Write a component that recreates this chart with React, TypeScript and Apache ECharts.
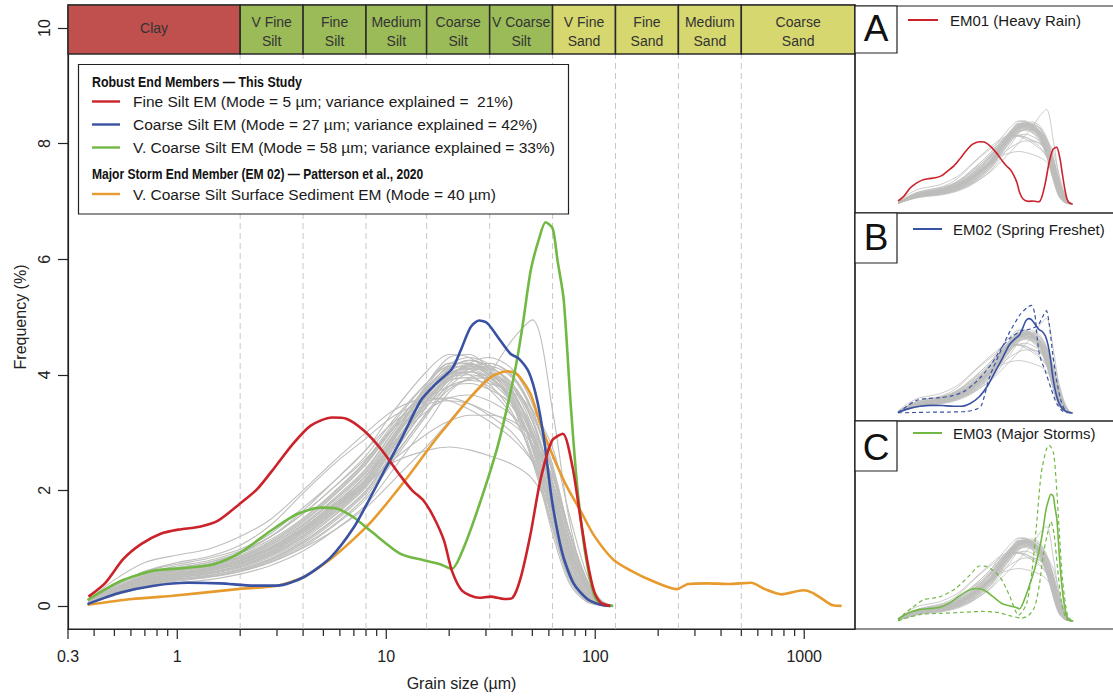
import React, { useEffect, useRef } from "react";
import * as echarts from "echarts";

const FONT = '"Liberation Sans", Arial, Helvetica, sans-serif';

// ---- axes ----
const X_MIN = 0.3;
const X_MAX = 1750;
const Y_MIN = -0.4;
const Y_MAX = 10.4;
const X_MAJOR = [0.3, 1, 10, 100, 1000];
const X_MINOR = [0.4, 0.5, 0.6, 0.7, 0.8, 0.9, 2, 3, 4, 5, 6, 7, 8, 9, 20, 30, 40, 50, 60, 70, 80, 90, 200, 300, 400, 500, 600, 700, 800, 900];
const Y_TICKS = [0, 2, 4, 6, 8, 10];

// ---- grain size classes (µm) ----
const CLASS_BOUNDS = [0.3, 2, 4, 8, 15.6, 31.25, 62.5, 125, 250, 500, 1750];
const CLASS_LABELS = ["Clay", "V Fine\nSilt", "Fine\nSilt", "Medium\nSilt", "Coarse\nSilt", "V Coarse\nSilt", "V Fine\nSand", "Fine\nSand", "Medium\nSand", "Coarse\nSand"];
const CLASS_KIND = ["clay", "silt", "silt", "silt", "silt", "silt", "sand", "sand", "sand", "sand"];
const BAND_BOTTOM = 9.55;

// ---- sample curves (grey) ----
const GRAY_SIZES = [0.375, 0.5, 0.7, 1, 1.4, 2, 2.8, 4, 5.6, 8, 11, 16, 20, 25, 31, 40, 50, 63, 75, 90, 105, 120];
const GRAY_SAMPLES = [
  [0.08, 0.35, 0.6, 0.72, 0.82, 0.98, 1.25, 1.7, 2.15, 2.7, 3.4, 4.1, 4.35, 4.3, 4.05, 3.6, 2.7, 1.3, 0.45, 0.1, 0.02, 0],
  [0.05, 0.25, 0.45, 0.55, 0.62, 0.75, 0.95, 1.3, 1.7, 2.2, 2.9, 3.7, 4.1, 4.25, 4.15, 3.8, 3.1, 1.9, 0.9, 0.3, 0.05, 0],
  [0.04, 0.2, 0.35, 0.45, 0.5, 0.6, 0.78, 1.05, 1.4, 1.9, 2.6, 3.4, 3.85, 4.1, 4.2, 4.0, 3.4, 2.3, 1.2, 0.4, 0.08, 0],
  [0.05, 0.22, 0.4, 0.5, 0.56, 0.68, 0.88, 1.2, 1.6, 2.1, 2.8, 3.6, 3.95, 4.05, 3.95, 3.6, 2.9, 1.7, 0.75, 0.2, 0.03, 0],
  [0.06, 0.3, 0.5, 0.62, 0.7, 0.85, 1.08, 1.45, 1.9, 2.45, 3.1, 3.85, 4.2, 4.2, 4.0, 3.5, 2.6, 1.2, 0.4, 0.08, 0.01, 0],
  [0.03, 0.18, 0.32, 0.4, 0.45, 0.55, 0.7, 0.95, 1.3, 1.75, 2.4, 3.2, 3.7, 3.95, 4.0, 3.8, 3.2, 2.1, 1.0, 0.35, 0.06, 0],
  [0.05, 0.24, 0.42, 0.52, 0.6, 0.72, 0.92, 1.25, 1.65, 2.15, 2.85, 3.6, 3.9, 3.95, 3.8, 3.45, 2.8, 1.8, 0.85, 0.25, 0.04, 0],
  [0.06, 0.28, 0.48, 0.6, 0.68, 0.82, 1.02, 1.35, 1.75, 2.25, 2.85, 3.4, 3.6, 3.65, 3.55, 3.3, 2.9, 2.2, 1.3, 0.5, 0.1, 0],
  [0.04, 0.2, 0.38, 0.48, 0.55, 0.66, 0.85, 1.15, 1.55, 2.05, 2.75, 3.55, 3.95, 4.2, 4.3, 4.1, 3.5, 2.4, 1.3, 0.45, 0.1, 0],
  [0.05, 0.26, 0.46, 0.57, 0.64, 0.78, 1.0, 1.35, 1.78, 2.3, 3.0, 3.75, 4.05, 4.1, 3.95, 3.55, 2.8, 1.4, 0.5, 0.12, 0.02, 0],
  [0.1, 0.45, 0.75, 0.88, 0.98, 1.2, 1.5, 2.0, 2.5, 3.0, 3.4, 3.6, 3.55, 3.4, 3.2, 2.9, 2.5, 1.8, 1.0, 0.4, 0.08, 0],
  [0.04, 0.2, 0.35, 0.45, 0.5, 0.6, 0.75, 1.0, 1.3, 1.7, 2.2, 2.8, 3.2, 3.6, 4.0, 4.6, 4.95, 3.3, 1.5, 0.4, 0.08, 0],
  [0.05, 0.25, 0.45, 0.56, 0.65, 0.8, 1.0, 1.35, 1.75, 2.15, 2.5, 2.7, 2.75, 2.7, 2.6, 2.45, 2.2, 1.6, 0.9, 0.3, 0.05, 0],
  [0.07, 0.35, 0.6, 0.75, 0.85, 1.05, 1.4, 1.95, 2.45, 2.9, 3.3, 3.55, 3.6, 3.5, 3.3, 3.0, 2.5, 1.6, 0.8, 0.25, 0.04, 0],
  [0.05, 0.25, 0.45, 0.56, 0.64, 0.78, 0.98, 1.3, 1.7, 2.2, 2.85, 3.5, 3.8, 3.9, 3.85, 3.7, 3.4, 2.7, 1.6, 0.6, 0.12, 0],
  [0.04, 0.22, 0.4, 0.5, 0.57, 0.7, 0.9, 1.22, 1.62, 2.15, 2.95, 3.9, 4.3, 4.35, 4.1, 3.5, 2.5, 1.3, 0.5, 0.12, 0.02, 0],
  [0.06, 0.3, 0.52, 0.64, 0.72, 0.88, 1.12, 1.5, 1.95, 2.5, 3.15, 3.8, 4.05, 4.0, 3.75, 3.3, 2.6, 1.5, 0.65, 0.18, 0.03, 0],
  [0.05, 0.27, 0.5, 0.63, 0.72, 0.92, 1.2, 1.6, 2.05, 2.55, 3.1, 3.6, 3.8, 3.85, 3.75, 3.5, 3.0, 2.0, 1.0, 0.3, 0.05, 0],
  [0.05, 0.27, 0.47, 0.58, 0.66, 0.8, 1.02, 1.38, 1.82, 2.35, 3.05, 3.8, 4.15, 4.2, 4.05, 3.65, 2.9, 1.6, 0.6, 0.15, 0.02, 0],
  [0.04, 0.21, 0.38, 0.47, 0.53, 0.64, 0.82, 1.12, 1.5, 2.0, 2.7, 3.5, 3.9, 4.1, 4.1, 3.85, 3.25, 2.1, 1.05, 0.35, 0.06, 0],
  [0.06, 0.29, 0.5, 0.61, 0.69, 0.84, 1.06, 1.42, 1.85, 2.38, 3.05, 3.75, 4.0, 4.05, 3.9, 3.5, 2.75, 1.55, 0.62, 0.15, 0.02, 0],
  [0.05, 0.23, 0.41, 0.51, 0.58, 0.7, 0.9, 1.22, 1.62, 2.12, 2.82, 3.62, 4.0, 4.15, 4.05, 3.7, 3.0, 1.85, 0.85, 0.25, 0.04, 0],
  [0.04, 0.19, 0.34, 0.43, 0.49, 0.59, 0.76, 1.02, 1.38, 1.85, 2.55, 3.35, 3.8, 4.05, 4.15, 3.95, 3.35, 2.25, 1.15, 0.4, 0.07, 0],
  [0.06, 0.31, 0.54, 0.66, 0.75, 0.91, 1.15, 1.52, 1.97, 2.52, 3.2, 3.9, 4.2, 4.2, 4.0, 3.55, 2.75, 1.45, 0.55, 0.12, 0.02, 0],
  [0.05, 0.24, 0.43, 0.54, 0.61, 0.74, 0.94, 1.28, 1.68, 2.2, 2.92, 3.72, 4.12, 4.25, 4.12, 3.72, 2.95, 1.7, 0.7, 0.18, 0.03, 0],
  [0.05, 0.26, 0.46, 0.57, 0.65, 0.79, 1.0, 1.33, 1.74, 2.26, 2.95, 3.68, 4.02, 4.12, 4.02, 3.68, 3.02, 1.95, 0.95, 0.3, 0.05, 0],
  [0.07, 0.33, 0.56, 0.69, 0.78, 0.95, 1.2, 1.6, 2.05, 2.6, 3.25, 3.9, 4.15, 4.1, 3.85, 3.35, 2.55, 1.35, 0.5, 0.12, 0.02, 0],
  [0.04, 0.2, 0.36, 0.46, 0.52, 0.63, 0.81, 1.1, 1.48, 1.98, 2.68, 3.5, 3.92, 4.15, 4.2, 3.98, 3.38, 2.25, 1.12, 0.38, 0.07, 0],
  [0.05, 0.25, 0.44, 0.55, 0.63, 0.76, 0.97, 1.3, 1.72, 2.25, 2.98, 3.78, 4.18, 4.3, 4.18, 3.75, 2.95, 1.6, 0.62, 0.15, 0.02, 0],
  [0.05, 0.28, 0.49, 0.6, 0.68, 0.83, 1.05, 1.4, 1.82, 2.32, 2.98, 3.65, 3.95, 4.0, 3.9, 3.62, 3.1, 2.1, 1.05, 0.35, 0.06, 0],
  [0.04, 0.21, 0.37, 0.46, 0.52, 0.62, 0.8, 1.08, 1.45, 1.95, 2.62, 3.38, 3.75, 3.92, 3.95, 3.8, 3.3, 2.35, 1.3, 0.48, 0.1, 0],
  [0.06, 0.3, 0.52, 0.63, 0.71, 0.86, 1.1, 1.47, 1.92, 2.47, 3.12, 3.82, 4.12, 4.15, 3.98, 3.55, 2.8, 1.6, 0.68, 0.18, 0.03, 0],
  [0.06, 0.3, 0.52, 0.65, 0.75, 0.92, 1.2, 1.65, 2.15, 2.7, 3.2, 3.5, 3.55, 3.5, 3.35, 3.15, 2.8, 2.1, 1.2, 0.45, 0.08, 0],
  [0.05, 0.25, 0.45, 0.56, 0.64, 0.78, 1.0, 1.32, 1.7, 2.1, 2.55, 3.0, 3.2, 3.3, 3.3, 3.2, 2.9, 2.2, 1.3, 0.5, 0.1, 0],
  [0.05, 0.24, 0.42, 0.53, 0.6, 0.73, 0.93, 1.26, 1.66, 2.18, 2.9, 3.68, 4.06, 4.18, 4.08, 3.72, 3.02, 1.8, 0.8, 0.22, 0.03, 0],
  [0.04, 0.22, 0.39, 0.49, 0.56, 0.68, 0.87, 1.18, 1.57, 2.08, 2.78, 3.58, 3.98, 4.15, 4.12, 3.85, 3.2, 2.0, 0.95, 0.3, 0.05, 0],
];

// ---- end members [grain size µm, frequency %] ----
const FINE_SILT_EM = [[0.376, 0.16], [0.453, 0.4], [0.551, 0.81], [0.671, 1.07], [0.833, 1.25], [1.01, 1.32], [1.28, 1.37], [1.56, 1.47], [1.98, 1.76], [2.41, 2.02], [2.93, 2.4], [3.57, 2.8], [4.35, 3.12], [5.5, 3.26], [6.44, 3.24], [7.84, 3.03], [9.55, 2.69], [11.7, 2.25], [13.3, 2.0], [15.1, 1.82], [16.9, 1.53], [18.9, 1.13], [20.6, 0.61], [23.1, 0.26], [27.8, 0.14], [31.6, 0.16], [36.7, 0.12], [40.2, 0.14], [44, 0.49], [49, 1.24], [54.6, 2.17], [62.1, 2.86], [70, 2.98], [77.9, 2.4], [84.9, 1.53], [91.6, 0.78], [98.6, 0.26], [106, 0.06], [118, 0]];
const COARSE_SILT_EM = [[0.372, 0.03], [0.536, 0.23], [0.774, 0.35], [1.12, 0.4], [1.61, 0.39], [2.33, 0.35], [3.01, 0.35], [4.04, 0.5], [5.42, 0.84], [7.0, 1.36], [8.4, 1.88], [10.0, 2.4], [11.7, 2.86], [14.6, 3.55], [16.9, 3.81], [20.6, 4.1], [22.7, 4.42], [25.3, 4.82], [27.8, 4.94], [30.5, 4.89], [35.2, 4.59], [39.4, 4.36], [43.1, 4.28], [48.2, 4.04], [52.8, 3.55], [57, 2.86], [62.1, 1.82], [69.7, 0.9], [79, 0.38], [91.6, 0.12], [106, 0.02], [118, 0]];
const VCOARSE_SILT_EM = [[0.372, 0.1], [0.536, 0.43], [0.774, 0.61], [1.12, 0.66], [1.5, 0.72], [2.0, 0.92], [2.8, 1.3], [3.75, 1.59], [4.85, 1.7], [5.83, 1.68], [7.0, 1.53], [8.4, 1.3], [11.7, 0.9], [15.1, 0.79], [18.1, 0.72], [20.6, 0.64], [23.5, 1.01], [28.3, 1.82], [34.0, 2.74], [37.9, 3.44], [41.6, 4.13], [44.8, 4.82], [49.1, 5.8], [53.6, 6.33], [57.9, 6.64], [62.6, 6.53], [66, 5.98], [70.7, 5.29], [76.1, 3.55], [82.1, 2.05], [89.7, 0.9], [98.6, 0.2], [106, 0.03], [122, 0]];
const SURFACE_EM = [[0.372, 0.02], [0.61, 0.12], [0.93, 0.17], [1.94, 0.29], [3.01, 0.35], [4.04, 0.5], [5.42, 0.81], [7.0, 1.16], [8.4, 1.44], [10.3, 1.82], [13.1, 2.3], [16.9, 2.84], [21, 3.26], [24.4, 3.55], [31.6, 3.96], [37.9, 4.06], [42.3, 4.01], [49, 3.67], [54.6, 3.15], [63.2, 2.57], [73.5, 2.05], [84.9, 1.65], [98.6, 1.22], [122, 0.8], [148, 0.61], [188, 0.43], [246, 0.29], [278, 0.38], [344, 0.39], [437, 0.38], [557, 0.4], [648, 0.29], [779, 0.2], [991, 0.27], [1090, 0.23], [1220, 0.12], [1370, 0.01], [1510, 0]];

// ---- panel uncertainty bounds ----
const EM02_BOUND_1 = [[0.375, 0], [0.6, 0.02], [1, 0.04], [2, 0.05], [3.5, 0.08], [5, 0.2], [5.9, 0.42], [7.7, 1.9], [10.7, 3.13], [14.1, 4.08], [20.8, 5.13], [26, 5.5], [30.6, 5.64], [34, 5.2], [37, 3.9], [40, 3.0], [48, 2.2], [58, 1.3], [70, 0.5], [85, 0.1], [100, 0]];
const EM02_BOUND_2 = [[0.375, 0], [0.5, 0.35], [0.69, 0.66], [1.0, 0.76], [1.49, 0.8], [2.2, 0.9], [3.2, 1.1], [4.5, 1.5], [6.5, 2.1], [9, 2.8], [11.8, 3.5], [16, 4.0], [22, 4.3], [30, 4.4], [38, 4.6], [45, 5.1], [50, 5.36], [55, 4.6], [62, 3.0], [70, 1.7], [80, 0.7], [92, 0.15], [105, 0]];
const EM03_BOUND_1 = [[0.375, 0], [0.44, 0.31], [0.6, 0.7], [0.86, 1.1], [1.5, 1.27], [2.5, 1.7], [4, 2.4], [5.5, 2.88], [7, 2.85], [10.7, 2.32], [14.7, 1.36], [20, 0.3], [26, 0.9], [31, 2.6], [36, 5.0], [42, 7.7], [50, 9.0], [55, 9.2], [63, 8.8], [68.6, 7.4], [76, 4.8], [85, 2.15], [100, 0.3], [115, 0]];
const EM03_BOUND_2 = [[0.375, 0], [0.55, 0.2], [0.8, 0.35], [1.5, 0.4], [3, 0.45], [6, 0.5], [10, 0.45], [16, 0.25], [22, 0.15], [28, 0.3], [34, 0.75], [40, 2.0], [45, 3.5], [52, 4.6], [58, 5.2], [64, 4.6], [72, 2.8], [82, 1.0], [95, 0.15], [110, 0]];

// ---- legend texts ----
const LEGEND_TITLE_1 = "Robust End Members \u2014 This Study";
const LEGEND_TITLE_2 = "Major Storm End Member (EM 02) \u2014 Patterson et al., 2020";
const LEGEND_LABELS = [
  "Fine Silt EM (Mode = 5 \u00b5m; variance explained =  21%)",
  "Coarse Silt EM (Mode = 27 \u00b5m; variance explained = 42%)",
  "V. Coarse Silt EM (Mode = 58 \u00b5m; variance explained = 33%)",
  "V. Coarse Silt Surface Sediment EM (Mode = 40 \u00b5m)",
];
const PANEL_LETTERS = ["A", "B", "C"];
const PANEL_LABELS = ["EM01 (Heavy Rain)", "EM02 (Spring Freshet)", "EM03 (Major Storms)"];

const RED = "#CC2229";
const BLUE = "#3A52A2";
const GREEN = "#72B844";
const ORANGE = "#E79B2E";
const GRAY = "#BEBEBC";
const INK = "#222";
const CLASS_COLORS: Record<string, string> = { clay: "#C0504D", silt: "#9BBB59", sand: "#D7D76F" };

function buildOption() {
  const grids = [
    { left: 68, top: 5, width: 787, height: 624, show: true, borderColor: INK, borderWidth: 1.2 },
    { left: 898, top: 13, width: 175, height: 191 },
    { left: 898, top: 222, width: 175, height: 191 },
    { left: 898, top: 430, width: 175, height: 191 },
  ];

  const xAxes: any[] = [
    {
      type: "log", logBase: 10, gridIndex: 0, min: X_MIN, max: X_MAX,
      name: "Grain size (\u00b5m)", nameLocation: "middle", nameGap: 46,
      nameTextStyle: { fontSize: 16, color: INK, fontFamily: FONT },
      axisLine: { show: true, onZero: false, lineStyle: { color: INK, width: 1.2 } },
      axisTick: { show: false },
      splitLine: { show: false },
      axisLabel: {
        fontSize: 16, color: INK, fontFamily: FONT, margin: 19,
        formatter: (v: number) => {
          const m = X_MAJOR.find((t) => Math.abs(t - v) / t < 1e-6);
          return m === undefined ? "" : String(m);
        },
      },
    },
  ];
  const yAxes: any[] = [
    {
      type: "value", gridIndex: 0, min: Y_MIN, max: Y_MAX,
      name: "Frequency (%)", nameLocation: "middle", nameGap: 40,
      nameTextStyle: { fontSize: 16, color: INK, fontFamily: FONT },
      axisLine: { show: true, onZero: false, lineStyle: { color: INK, width: 1.2 } },
      axisTick: { show: true, length: 10, customValues: Y_TICKS, lineStyle: { color: INK, width: 1.2 } },
      axisLabel: { customValues: Y_TICKS, rotate: 90, fontSize: 16, color: INK, fontFamily: FONT, margin: 16 },
      splitLine: { show: false },
    },
  ];
  for (let i = 1; i <= 3; i++) {
    xAxes.push({ type: "log", logBase: 10, gridIndex: i, min: 0.375, max: 120, show: false });
    yAxes.push({ type: "value", gridIndex: i, min: 0, max: 10, show: false });
  }

  const series: any[] = [];

  // dashed class boundaries
  series.push({
    type: "custom", xAxisIndex: 0, yAxisIndex: 0, silent: true, clip: false, z: 1,
    data: CLASS_BOUNDS.slice(1, -1).map((b) => [b, Y_MIN]),
    renderItem: (_p: any, api: any) => {
      const a = api.coord([api.value(0), Y_MIN]);
      const b = api.coord([api.value(0), BAND_BOTTOM]);
      return { type: "line", shape: { x1: a[0], y1: a[1], x2: b[0], y2: b[1] }, style: { stroke: "#C8C8C8", lineWidth: 1, lineDash: [6, 4] } };
    },
  });

  // grey sample curves in all four plots
  for (let g = 0; g <= 3; g++) {
    GRAY_SAMPLES.forEach((vals) => {
      series.push({
        type: "line", xAxisIndex: g, yAxisIndex: g, silent: true, showSymbol: false, smooth: 0.3, z: 2,
        data: GRAY_SIZES.map((d, i) => [d, vals[i]]),
        lineStyle: { color: GRAY, width: g === 0 ? 1.1 : 0.8 },
      });
    });
  }

  const em = (data: number[][], color: string, g: number, width: number, dashed = false) => ({
    type: "line", xAxisIndex: g, yAxisIndex: g, silent: true, showSymbol: false, smooth: 0.25, z: 3,
    data, lineStyle: { color, width, type: dashed ? [4, 3] : "solid" },
  });
  series.push(em(SURFACE_EM, ORANGE, 0, 2.6));
  series.push(em(VCOARSE_SILT_EM, GREEN, 0, 2.6));
  series.push(em(COARSE_SILT_EM, BLUE, 0, 2.6));
  series.push(em(FINE_SILT_EM, RED, 0, 2.6));

  series.push(em(FINE_SILT_EM, RED, 1, 1.6));
  series.push(em(EM02_BOUND_1, BLUE, 2, 1.2, true));
  series.push(em(EM02_BOUND_2, BLUE, 2, 1.2, true));
  series.push(em(COARSE_SILT_EM, BLUE, 2, 1.6));
  series.push(em(EM03_BOUND_1, GREEN, 3, 1.2, true));
  series.push(em(EM03_BOUND_2, GREEN, 3, 1.2, true));
  series.push(em(VCOARSE_SILT_EM, GREEN, 3, 1.6));

  // grain-size class band
  series.push({
    type: "custom", xAxisIndex: 0, yAxisIndex: 0, silent: true, clip: false, z: 4,
    data: CLASS_LABELS.map((_l, i) => [CLASS_BOUNDS[i], BAND_BOTTOM, CLASS_BOUNDS[i + 1], i]),
    renderItem: (_p: any, api: any) => {
      const i = api.value(3);
      const p0 = api.coord([api.value(0), Y_MAX]);
      const p1 = api.coord([api.value(2), BAND_BOTTOM]);
      const twoLines = CLASS_LABELS[i].indexOf("\n") >= 0;
      return {
        type: "group",
        children: [
          { type: "rect", shape: { x: p0[0], y: p0[1], width: p1[0] - p0[0], height: p1[1] - p0[1] }, style: { fill: CLASS_COLORS[CLASS_KIND[i]], stroke: "#2a2a2a", lineWidth: 1.5 } },
          { type: "text", x: (p0[0] + p1[0]) / 2, y: (p0[1] + p1[1]) / 2 + (twoLines ? 1.5 : -1.5), style: { text: CLASS_LABELS[i], align: "center", verticalAlign: "middle", fill: "#333", fontSize: 14, fontFamily: FONT, lineHeight: 19 } },
        ],
      };
    },
  });

  // x axis ticks (major + minor)
  series.push({
    type: "custom", xAxisIndex: 0, yAxisIndex: 0, silent: true, clip: false, z: 4,
    data: [...X_MAJOR.map((v) => [v, Y_MIN, 10]), ...X_MINOR.map((v) => [v, Y_MIN, 7])],
    renderItem: (_p: any, api: any) => {
      const pt = api.coord([api.value(0), api.value(1)]);
      return { type: "line", shape: { x1: pt[0], y1: pt[1], x2: pt[0], y2: pt[1] + api.value(2) }, style: { stroke: INK, lineWidth: 1.2 } };
    },
  });

  // ---- graphics: legend + panel frames ----
  const graphic: any[] = [];
  const lx = 78.5, ly = 64.5;
  graphic.push({ type: "rect", shape: { x: lx, y: ly, width: 490, height: 149.5 }, style: { fill: "#fff", stroke: INK, lineWidth: 1.2 }, z: 100 });
  graphic.push({ type: "text", x: 92, y: 81.5, scaleX: 0.8, style: { text: LEGEND_TITLE_1, fontSize: 15.5, fontWeight: "bold", fontFamily: FONT, fill: "#111", verticalAlign: "middle" }, z: 101 });
  graphic.push({ type: "text", x: 92, y: 173.5, scaleX: 0.78, style: { text: LEGEND_TITLE_2, fontSize: 15.5, fontWeight: "bold", fontFamily: FONT, fill: "#111", verticalAlign: "middle" }, z: 101 });
  const legendColors = [RED, BLUE, GREEN, ORANGE];
  const legendY = [101.5, 124.5, 147.5, 194];
  LEGEND_LABELS.forEach((t, i) => {
    graphic.push({ type: "line", shape: { x1: 92, y1: legendY[i], x2: 120, y2: legendY[i] }, style: { stroke: legendColors[i], lineWidth: 2.4 }, z: 101 });
    graphic.push({ type: "text", x: 133, y: legendY[i], style: { text: t, fontSize: 15.5, fontFamily: FONT, fill: "#1a1a1a", verticalAlign: "middle" }, z: 101 });
  });

  const panelTop = [6, 213, 421];
  const panelBottom = [213, 421, 629];
  const letterBoxBottom = [53, 263, 471];
  const letterY = [28, 237, 447];
  const panelLegendY = [20, 229, 433];
  const panelLineX = [[908, 938], [913, 942], [913, 942]];
  const panelTextX = [950, 953, 953];
  const panelColors = [RED, BLUE, GREEN];
  for (let i = 0; i < 3; i++) {
    graphic.push({ type: "rect", shape: { x: 855, y: panelTop[i], width: 262, height: panelBottom[i] - panelTop[i] }, style: { fill: "none", stroke: INK, lineWidth: 1.2 }, z: 100 });
    graphic.push({ type: "rect", shape: { x: 855, y: panelTop[i], width: 42, height: letterBoxBottom[i] - panelTop[i] }, style: { fill: "#fff", stroke: INK, lineWidth: 1.2 }, z: 100 });
    graphic.push({ type: "text", x: 876, y: letterY[i], style: { text: PANEL_LETTERS[i], fontSize: 37, fontFamily: FONT, fill: "#111", align: "center", verticalAlign: "middle" }, z: 101 });
    graphic.push({ type: "line", shape: { x1: panelLineX[i][0], y1: panelLegendY[i], x2: panelLineX[i][1], y2: panelLegendY[i] }, style: { stroke: panelColors[i], lineWidth: 2 }, z: 101 });
    graphic.push({ type: "text", x: panelTextX[i], y: panelLegendY[i], style: { text: PANEL_LABELS[i], fontSize: 15, fontFamily: FONT, fill: "#1a1a1a", verticalAlign: "middle" }, z: 101 });
  }

  return {
    animation: false,
    backgroundColor: "#fff",
    textStyle: { fontFamily: FONT },
    grid: grids,
    xAxis: xAxes,
    yAxis: yAxes,
    series,
    graphic,
  };
}

export default function App() {
  const ref = useRef<HTMLDivElement>(null);
  useEffect(() => {
    const chart = echarts.init(ref.current as HTMLDivElement, null, { renderer: "svg" });
    chart.setOption(buildOption() as any);
    return () => chart.dispose();
  }, []);
  return <div ref={ref} style={{ position: "absolute", left: 0, top: 0, width: 1113, height: 696, background: "#fff" }} />;
}
